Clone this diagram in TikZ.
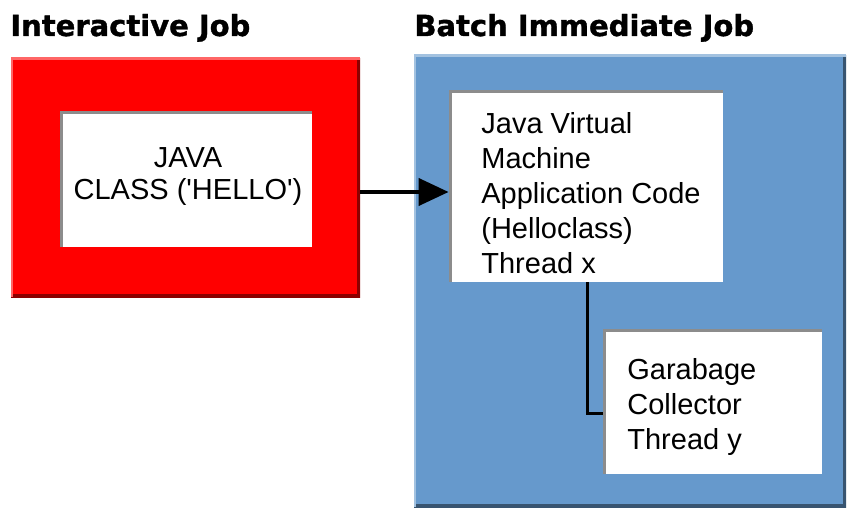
\documentclass[tikz,border=0pt]{standalone}
\usepackage{fontspec}
\setmainfont{Liberation Sans}
\newfontfamily\headfont{DejaVu Sans}[BoldFeatures={FakeBold=1.2}]
\usetikzlibrary{arrows.meta}
\definecolor{jobred}{RGB}{255,0,0}
\definecolor{jobblue}{RGB}{102,153,204}
\tikzset{
	bevel/.style={path picture={
		\draw[#1!55!black,line width=3pt] (path picture bounding box.south west)--(path picture bounding box.south east)--(path picture bounding box.north east);
		\draw[#1!60!white,line width=2pt] (path picture bounding box.south west)--(path picture bounding box.north west)--(path picture bounding box.north east);}},
	inset/.style={fill=white,path picture={
		\draw[black!45,line width=2.5pt] (path picture bounding box.south west)--(path picture bounding box.north west)--(path picture bounding box.north east);}},
	jobtitle/.style={anchor=base west,inner sep=0,font=\headfont\bfseries\fontsize{14.5}{17}\selectfont},
	boxtext/.style={inner sep=0,font=\fontsize{14.5}{17.5}\selectfont},
}
\begin{document}
\begin{tikzpicture}[x=.5pt,y=-.5pt]
	\useasboundingbox (0,0) rectangle (847,508);
	% the two jobs
	\node[jobtitle] (intitle) at (10,36) {Interactive Job};
	\node[jobtitle] (battitle) at (414,36) {Batch Immediate Job};
	\node[fill=jobred,bevel=jobred,minimum width=174.5pt,minimum height=119.5pt] (redout) at (185.5,177.5) {};
	\node[inset,minimum width=126pt,minimum height=67.5pt] (javaclass) at (186,179.5) {};
	\node[fill=jobblue,bevel=jobblue,minimum width=216pt,minimum height=226pt] (blueout) at (630,281) {};
	\node[inset,minimum width=137pt,minimum height=95.5pt] (jvm) at (586,186.5) {};
	\node[inset,minimum width=109.5pt,minimum height=72.5pt] (gc) at (712.5,401.5) {};
	% texts
	\node[boxtext,anchor=north,align=center,font=\fontsize{14.5}{16}\selectfont] (javatext) at (188,147) {JAVA\\CLASS (\textquotesingle HELLO\textquotesingle)};
	\node[boxtext,anchor=north west,align=left] (jvmtext) at (481,112) {Java Virtual\\Machine\\Application Code\\(Helloclass)\\Thread x};
	\node[boxtext,anchor=north west,align=left] (gctext) at (627,358) {Garabage\\Collector\\Thread y};
	% connectors
	\coordinate (callrow) at (0,192);
	\coordinate (gcrow) at (0,413);
	\coordinate (threadcol) at (587,0);
	\draw[line width=2pt,-{Triangle[length=15pt,width=13.5pt]}] (redout.east|-callrow)--(jvm.west|-callrow);
	\draw[line width=1.5pt] (jvm.south-|threadcol)|-(gc.west|-gcrow);
\end{tikzpicture}
\end{document}
